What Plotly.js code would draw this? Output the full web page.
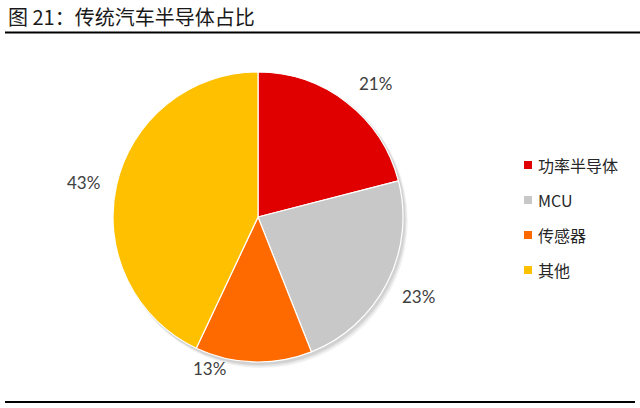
<!DOCTYPE html>
<html>
<head>
<meta charset="utf-8">
<script src="https://cdn.plot.ly/plotly-3.0.1.min.js"></script>
<style>html,body{margin:0;padding:0;background:#fff;}#chart{width:640px;height:408px;}</style>
</head>
<body>
<div id="chart"></div>
<script>
const categories = ["功率半导体", "MCU", "传感器", "其他"];
const shares = [21, 23, 13, 43];
const colors = ["#E00000", "#C8C8C8", "#FF6A00", "#FFC000"];
const titleText = "图 21：传统汽车半导体占比";

const W = 640, H = 408;
const cx = 258, cy = 217, R = 145;
const px = x => x / W;
const py = y => 1 - y / H;

// label anchor positions (pixels) for percentage texts, in slice order
const labelPix = [[375, 84], [418, 296], [209, 368], [83, 182]];

const total = shares.reduce((a, b) => a + b, 0);

const trace = {
  type: "pie",
  labels: categories,
  values: shares,
  sort: false,
  direction: "clockwise",
  rotation: 0,
  marker: {colors: colors, line: {color: "#FFFFFF", width: 1.2}},
  textinfo: "none",
  hoverinfo: "label+percent",
  showlegend: false,
  domain: {x: [px(cx - R), px(cx + R)], y: [py(cy + R), py(cy - R)]}
};

const annotations = [];
shares.forEach((v, i) => {
  annotations.push({
    xref: "paper", yref: "paper",
    x: px(labelPix[i][0]), y: py(labelPix[i][1]),
    xanchor: "center", yanchor: "middle",
    text: Math.round(v / total * 100) + "%",
    showarrow: false,
    font: {family: "Lato, 'Noto Sans', sans-serif", size: 17, color: "#404040"}
  });
});

// title
annotations.push({
  xref: "paper", yref: "paper", x: px(6), y: py(17),
  xanchor: "left", yanchor: "middle",
  text: titleText, showarrow: false,
  font: {family: "'Noto Sans CJK SC', sans-serif", size: 20, color: "#1A1A1A"}
});

// manual legend
const legX = 528, legY0 = 165, legStep = 35, sq = 8;
const shapes = [];
categories.forEach((c, i) => {
  const y = legY0 + i * legStep;
  shapes.push({
    type: "rect", xref: "paper", yref: "paper",
    x0: px(legX - sq / 2), x1: px(legX + sq / 2),
    y0: py(y + sq / 2), y1: py(y - sq / 2),
    fillcolor: colors[i], line: {width: 0}
  });
  annotations.push({
    xref: "paper", yref: "paper", x: px(536), y: py(y),
    xanchor: "left", yanchor: "middle",
    text: c, showarrow: false,
    font: {family: "'Noto Sans CJK SC', sans-serif", size: 16, color: "#262626"}
  });
});

// pie soft shadow
[[6, 0.05], [4.5, 0.06], [3, 0.08]].forEach(([d, o]) => {
  shapes.push({
    type: "circle", xref: "paper", yref: "paper", layer: "below",
    x0: px(cx - R + d * 0.4), x1: px(cx + R + d * 0.8),
    y0: py(cy + R + d), y1: py(cy - R + d * 0.3),
    fillcolor: "rgba(0,0,0," + o + ")", line: {width: 0}
  });
});

// rules
shapes.push({type: "line", xref: "paper", yref: "paper", x0: px(5), x1: px(640), y0: py(32.5), y1: py(32.5), line: {color: "#000", width: 2}});
shapes.push({type: "line", xref: "paper", yref: "paper", x0: px(5), x1: px(635), y0: py(402), y1: py(402), line: {color: "#000", width: 2}});

const layout = {
  width: W, height: H,
  margin: {l: 0, r: 0, t: 0, b: 0},
  paper_bgcolor: "#FFFFFF",
  plot_bgcolor: "#FFFFFF",
  showlegend: false,
  annotations: annotations,
  shapes: shapes
};

Plotly.newPlot("chart", [trace], layout, {displayModeBar: false, staticPlot: true});
</script>
</body>
</html>
